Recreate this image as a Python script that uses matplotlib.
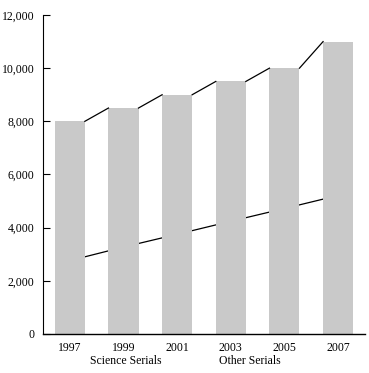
#!/usr/bin/env python3
"""Serials: total bars with science/other split line"""

import matplotlib.pyplot as plt
import numpy as np

years = ['1997', '1999', '2001', '2003', '2005', '2007']
total_serials = [8000, 8500, 9000, 9500, 10000, 11000]
science_serials = [2760, 3270, 3750, 4240, 4720, 5210]
yticks = [0, 2000, 4000, 6000, 8000, 10000, 12000]

plt.rcParams['font.family'] = ['Liberation Serif', 'DejaVu Serif']
plt.rcParams['font.size'] = 8.5

fig = plt.figure(figsize=(3.69, 3.73), dpi=100)
ax = fig.add_axes([0.1165, 0.1046, 0.8725, 0.8552])

x = np.arange(len(years))
w = 0.56

# Science line runs behind the bars, only seen in the gaps
ax.plot(x, science_serials, color='black', lw=0.9, zorder=1)
ax.bar(x, total_serials, width=w, color='#c9c9c9', zorder=2)

# Upper line joins the bar corners
for i in range(len(x) - 1):
    ax.plot([x[i] + w / 2, x[i + 1] - w / 2],
            [total_serials[i], total_serials[i + 1]],
            color='black', lw=0.9, zorder=3)

ax.set_xlim(-0.5, 5.5)
ax.set_ylim(0, 12000)
ax.set_xticks(x)
ax.set_xticklabels(years)
ax.set_yticks(yticks)
ax.set_yticklabels(['{:,}'.format(v) for v in yticks])
ax.tick_params(axis='y', direction='in', length=5, width=0.8, pad=6)
ax.tick_params(axis='x', length=0, pad=6)

for side in ['top', 'right']:
    ax.spines[side].set_visible(False)
ax.spines['left'].set_linewidth(0.8)
ax.spines['bottom'].set_linewidth(1.0)

ax.text(1.04, -0.085, 'Science Serials', transform=ax.get_xaxis_transform(),
        ha='center', va='center')
ax.text(3.35, -0.085, 'Other Serials', transform=ax.get_xaxis_transform(),
        ha='center', va='center')

fig.savefig('out.png', dpi=100)
